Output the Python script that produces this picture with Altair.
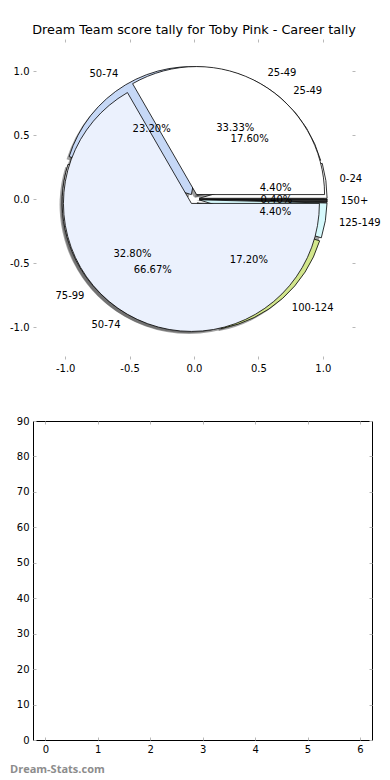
import math
import altair as alt
import pandas as pd

# ---------------- data ----------------
title_text = "Dream Team score tally for Toby Pink - Career tally"

career_labels = ["0-24", "25-49", "50-74", "75-99", "100-124", "125-149", "150+"]
career_pct = [4.40, 17.60, 23.20, 32.80, 17.20, 4.40, 0.40]
career_colors = ["#ffffff", "#ffffff", "#c6d8f6", "#dcdcdc", "#d2e68c", "#d6f9fc", "#303030"]

season_labels = ["25-49", "50-74"]
season_pct = [33.33, 66.67]
season_colors = ["#ffffff", "#ebf1fd"]

pie_ticks = [-1.0, -0.5, 0.0, 0.5, 1.0]
bar_x_ticks = [0, 1, 2, 3, 4, 5, 6]
bar_y_ticks = [0, 10, 20, 30, 40, 50, 60, 70, 80, 90]
watermark = "Dream-Stats.com"

# ---------------- layout / style ----------------
FONT = "DejaVu Sans"
PW_TOP = 322
PH_TOP = 320
PW_BOT = 339
PH_BOT = 319
R = 128
EXPLODE = 0.04
SHADOW = 0.02
TICK_COLOR = "#b8b8b8"

pie_df = pd.DataFrame({
    "pie": ["career"] * len(career_labels) + ["season"] * len(season_labels),
    "i": list(range(len(career_labels))) + list(range(len(season_labels))),
    "label": career_labels + season_labels,
    "pct": career_pct + season_pct,
    "color": career_colors + season_colors,
})

xs = alt.Scale(domain=[-1.25, 1.25], nice=False, zero=False)
ys = alt.Scale(domain=[-1.25, 1.25], nice=False, zero=False)
theta_scale = alt.Scale(domain=[0, 100], range=[2.5 * math.pi, 0.5 * math.pi])


def axis(orient, labels=True, values=None, fmt=None):
    kw = dict(orient=orient, title=None, domain=False, grid=False, ticks=True,
              tickSize=3, tickColor=TICK_COLOR, tickWidth=1, offset=-3,
              labelPadding=4, labelFont=FONT, labelFontSize=10,
              labelColor="black", labelFlush=False, labels=labels,
              values=values, minExtent=0)
    if fmt:
        kw["format"] = fmt
        kw["labelExpr"] = "replace(datum.label, '\u2212', '-')"
    return alt.Axis(**kw)


base = alt.Chart(pie_df).transform_window(
    cum="sum(pct)", groupby=["pie"], sort=[alt.SortField("i", order="ascending")],
    frame=[None, 0]
).transform_calculate(
    start="datum.cum - datum.pct",
    mid="2*PI*(datum.cum - datum.pct/2)/100",
).transform_calculate(
    cx=f"{EXPLODE}*cos(datum.mid)",
    cy=f"{EXPLODE}*sin(datum.mid)",
    sx=f"{EXPLODE}*cos(datum.mid) - {SHADOW}",
    sy=f"{EXPLODE}*sin(datum.mid) - {SHADOW}",
    lx=f"({EXPLODE}+1.1)*cos(datum.mid)",
    ly=f"({EXPLODE}+1.1)*sin(datum.mid)",
    tx=f"({EXPLODE}+0.6)*cos(datum.mid)",
    ty=f"({EXPLODE}+0.6)*sin(datum.mid)",
    pct_text="format(datum.pct, '.2f') + '%'",
)

theta = alt.Theta("start:Q", scale=theta_scale)
theta2 = alt.Theta2("cum:Q")

shadow = base.mark_arc(radius=R, fill="#444444", opacity=0.5).encode(
    x=alt.X("sx:Q", scale=xs, axis=None),
    y=alt.Y("sy:Q", scale=ys, axis=None),
    theta=theta, theta2=theta2,
)

def wedges(which):
    return base.transform_filter(f"datum.pie == '{which}'").mark_arc(
        radius=R, stroke="black", strokeWidth=0.8
    ).encode(
        x=alt.X("cx:Q", scale=xs, axis=None),
        y=alt.Y("cy:Q", scale=ys, axis=None),
        theta=theta, theta2=theta2,
        color=alt.Color("color:N", scale=None),
    )

lab_right = base.transform_filter("cos(datum.mid) > 0").mark_text(
    align="left", baseline="middle", font=FONT, fontSize=10, color="black"
).encode(
    x=alt.X("lx:Q", scale=xs, axis=None), y=alt.Y("ly:Q", scale=ys, axis=None),
    text="label:N",
)
lab_left = base.transform_filter("cos(datum.mid) <= 0").mark_text(
    align="right", baseline="middle", font=FONT, fontSize=10, color="black"
).encode(
    x=alt.X("lx:Q", scale=xs, axis=None), y=alt.Y("ly:Q", scale=ys, axis=None),
    text="label:N",
)
pct_lab = base.mark_text(
    align="center", baseline="middle", font=FONT, fontSize=10, color="black"
).encode(
    x=alt.X("tx:Q", scale=xs, axis=None), y=alt.Y("ty:Q", scale=ys, axis=None),
    text="pct_text:N",
)

tick_df = pd.DataFrame({"t": pie_ticks})
axes_main = alt.Chart(tick_df).mark_point(opacity=0).encode(
    x=alt.X("t:Q", scale=xs, axis=axis("bottom", values=pie_ticks, fmt=".1f")),
    y=alt.Y("t:Q", scale=ys, axis=axis("left", values=pie_ticks, fmt=".1f")),
)
axes_frame = alt.Chart(tick_df).mark_point(opacity=0).encode(
    x=alt.X("t:Q", scale=xs, axis=axis("top", labels=False, values=pie_ticks)),
    y=alt.Y("t:Q", scale=ys, axis=axis("right", labels=False, values=pie_ticks)),
)

top = alt.layer(
    axes_main, axes_frame, shadow, wedges("career"), wedges("season"),
    lab_right, lab_left, pct_lab,
).resolve_axis(x="independent", y="independent").properties(
    width=PW_TOP, height=PH_TOP,
    title=alt.Title(title_text, font=FONT, fontSize=12.8, fontWeight="normal",
                    color="black", anchor="middle", offset=2),
    view=alt.ViewBackground(stroke="transparent"),
)

# ---------------- bottom (empty) panel ----------------
bxs = alt.Scale(domain=[-0.235, 6.23], nice=False, zero=False)
bys = alt.Scale(domain=[0, 90], nice=False, zero=False)
bdf = pd.DataFrame({"x": bar_x_ticks, "y": [bar_y_ticks[0]] * len(bar_x_ticks)})

b_main = alt.Chart(bdf).mark_point(opacity=0).encode(
    x=alt.X("x:Q", scale=bxs, axis=axis("bottom", values=bar_x_ticks, fmt="d")),
    y=alt.Y("y:Q", scale=bys, axis=axis("left", values=bar_y_ticks, fmt="d")),
)
b_frame = alt.Chart(bdf).mark_point(opacity=0).encode(
    x=alt.X("x:Q", scale=bxs, axis=axis("top", labels=False, values=bar_x_ticks)),
    y=alt.Y("y:Q", scale=bys, axis=axis("right", labels=False, values=bar_y_ticks)),
)
wm = alt.Chart(pd.DataFrame({"t": [watermark]})).mark_text(
    align="left", baseline="middle", font="Open Sans", fontWeight="bold",
    fontSize=11, color="#8c8c8c"
).encode(x=alt.value(-23), y=alt.value(PH_BOT + 30), text="t:N")

bottom = alt.layer(b_main, b_frame, wm).resolve_axis(
    x="independent", y="independent"
).properties(
    width=PW_BOT, height=PH_BOT,
    view=alt.ViewBackground(stroke="black", strokeWidth=1),
)

chart = alt.vconcat(top, bottom, spacing=41).properties(
    padding={"left": 0, "top": 15, "right": 0, "bottom": 0},
    background="white",
)

chart.save("out.html", embed_options={"renderer": "svg", "actions": False})
